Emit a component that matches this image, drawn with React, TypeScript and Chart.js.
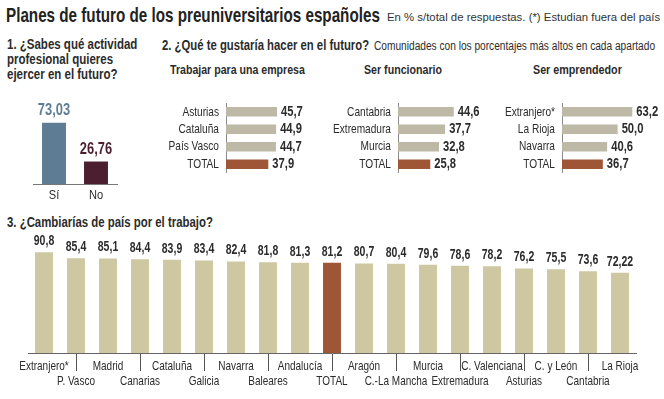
import React, { useEffect, useLayoutEffect, useRef } from "react";
import { Chart, registerables } from "chart.js";
Chart.register(...registerables);

const FONT = "'Liberation Sans', Arial, sans-serif";

const knowCategories = ["Sí", "No"];
const knowValues = [73.03, 26.76];

const companyCategories = ["Asturias", "Cataluña", "País Vasco", "TOTAL"];
const companyValues = [45.7, 44.9, 44.7, 37.9];
const civilCategories = ["Cantabria", "Extremadura", "Murcia", "TOTAL"];
const civilValues = [44.6, 37.7, 32.8, 25.8];
const entrepCategories = ["Extranjero*", "La Rioja", "Navarra", "TOTAL"];
const entrepValues = [63.2, 50.0, 40.6, 36.7];

const moveCategories = [
  "Extranjero*", "P. Vasco", "Madrid", "Canarias", "Cataluña", "Galicia", "Navarra",
  "Baleares", "Andalucía", "TOTAL", "Aragón", "C.-La Mancha", "Murcia", "Extremadura",
  "C. Valenciana", "Asturias", "C. y León", "Cantabria", "La Rioja",
];
const moveValues = [
  90.8, 85.4, 85.1, 84.4, 83.9, 83.4, 82.4, 81.8, 81.3, 81.2, 80.7, 80.4, 79.6, 78.6,
  78.2, 76.2, 75.5, 73.6, 72.22,
];

const TAN = "#cdc7a2";
const GREY_TAN = "#bdb9a6";
const BROWN = "#9e5637";
const BLUE = "#5f7c95";
const MAROON = "#4b1f30";
const TEXT = "#2b2b2b";

const fmt = (v: number) => (Number.isInteger(v) ? v.toFixed(1) : String(v)).replace(".", ",");

const valueLabels = {
  id: "valueLabels",
  afterDatasetsDraw(chart: any, _args: any, opts: any) {
    const ctx = chart.ctx;
    const meta = chart.getDatasetMeta(0);
    const ds = chart.data.datasets[0];
    ctx.save();
    const prevK = ctx.__k;
    ctx.__k = opts.k;
    ctx.font = opts.font;
    meta.data.forEach((el: any, i: number) => {
      const txt = fmt(ds.data[i] as number);
      ctx.fillStyle = Array.isArray(opts.color) ? opts.color[i] : opts.color;
      if (opts.horizontal) {
        ctx.textAlign = "left";
        ctx.textBaseline = "middle";
        ctx.fillText(txt, el.x + opts.offset, el.y);
      } else {
        ctx.textAlign = "center";
        ctx.textBaseline = "bottom";
        ctx.fillText(txt, el.x, el.y - opts.offset);
      }
    });
    ctx.__k = prevK;
    ctx.restore();
  },
};

function ChartBox({ left, top, width, height, make, k }: any) {
  const ref = useRef<HTMLCanvasElement>(null);
  useEffect(() => {
    const canvas = ref.current as HTMLCanvasElement;
    const ctx: any = canvas.getContext("2d");
    const orig = ctx.fillText.bind(ctx);
    ctx.__k = k;
    ctx.fillText = (text: string, x: number, y: number, maxWidth?: number) => {
      const kk = ctx.__k || 1;
      ctx.save();
      ctx.translate(x, y);
      ctx.scale(kk, 1);
      if (maxWidth !== undefined) orig(text, 0, 0, maxWidth / kk);
      else orig(text, 0, 0);
      ctx.restore();
    };
    const chart = new Chart(canvas, make());
    return () => chart.destroy();
  }, []);
  return (
    <canvas
      ref={ref}
      width={width}
      height={height}
      style={{ position: "absolute", left, top, width, height }}
    />
  );
}

function hbarConfig(cats: string[], vals: number[], axisWidth: number, max: number, padRight: number) {
  return () => ({
    type: "bar",
    data: {
      labels: cats,
      datasets: [
        {
          data: vals,
          backgroundColor: cats.map((c) => (c === "TOTAL" ? BROWN : GREY_TAN)),
          barPercentage: 0.54,
          categoryPercentage: 1,
        },
      ],
    },
    plugins: [valueLabels],
    options: {
      indexAxis: "y",
      animation: false,
      responsive: false,
      layout: { padding: { left: 0, right: padRight, top: 0, bottom: 0 } },
      plugins: {
        legend: { display: false },
        tooltip: { enabled: false },
        valueLabels: { font: `bold 14px ${FONT}`, color: TEXT, offset: 4, horizontal: true, k: 0.8 },
      },
      scales: {
        x: { display: false, min: 0, max },
        y: {
          afterFit: (s: any) => { s.width = axisWidth; },
          grid: { display: false, drawTicks: false },
          border: { display: true, color: "#8a8a8a", width: 1 },
          ticks: { padding: 7, color: TEXT, font: { family: FONT, size: 13.5 } },
        },
      },
    },
  });
}

const knowConfig = () => ({
  type: "bar",
  data: {
    labels: knowCategories,
    datasets: [
      {
        data: knowValues,
        backgroundColor: [BLUE, MAROON],
        barPercentage: 0.57,
        categoryPercentage: 1,
      },
    ],
  },
  plugins: [valueLabels],
  options: {
    animation: false,
    responsive: false,
    layout: { padding: { left: 0, right: 3, top: 10, bottom: 0 } },
    plugins: {
      legend: { display: false },
      tooltip: { enabled: false },
      valueLabels: { font: `bold 17px ${FONT}`, color: [BLUE, MAROON], offset: 4, k: 0.76 },
    },
    scales: {
      y: { display: false, min: 0, max: 100 },
      x: {
        afterFit: (s: any) => { s.height = 20; },
        grid: { display: false, drawTicks: false },
        border: { display: true, color: "#777", width: 1 },
        ticks: { padding: 3, color: TEXT, font: { family: FONT, size: 13.5 } },
      },
    },
  },
});

const moveConfig = () => ({
  type: "bar",
  data: {
    labels: moveCategories.map((c, i) => (i % 2 === 0 ? [c] : ["", c])),
    datasets: [
      {
        data: moveValues,
        backgroundColor: moveCategories.map((c) => (c === "TOTAL" ? BROWN : TAN)),
        barPercentage: 0.56,
        categoryPercentage: 1,
      },
    ],
  },
  plugins: [valueLabels],
  options: {
    animation: false,
    responsive: false,
    layout: { padding: { left: 14, right: 4, top: 15, bottom: 0 } },
    plugins: {
      legend: { display: false },
      tooltip: { enabled: false },
      valueLabels: { font: `bold 14px ${FONT}`, color: TEXT, offset: 4, k: 0.75 },
    },
    scales: {
      y: { display: false, min: 0, max: 100 },
      x: {
        afterFit: (s: any) => { s.height = 36; },
        grid: {
          display: true,
          drawOnChartArea: false,
          drawTicks: true,
          tickLength: 18,
          offset: false,
          color: (c: any) => (c.index % 2 === 1 ? "#555" : "rgba(0,0,0,0)"),
        },
        border: { display: true, color: "#666", width: 1 },
        ticks: {
          padding: -12,
          color: TEXT,
          autoSkip: false,
          maxRotation: 0,
          font: { family: FONT, size: 13.5, lineHeight: 1.08 },
        },
      },
    },
  },
});

function Fit({ left, top, width, children, style }: any) {
  const ref = useRef<HTMLDivElement>(null);
  useLayoutEffect(() => {
    const el = ref.current as HTMLDivElement;
    el.style.transform = "none";
    const w = el.offsetWidth;
    if (w > 0) el.style.transform = `scaleX(${width / w})`;
  }, []);
  return (
    <div
      ref={ref}
      style={{
        position: "absolute",
        left,
        top,
        whiteSpace: "nowrap",
        transformOrigin: "left top",
        fontFamily: FONT,
        color: TEXT,
        ...style,
      }}
    >
      {children}
    </div>
  );
}

export default function App() {
  return (
    <div style={{ position: "absolute", left: 0, top: 0, width: 664, height: 399, background: "#fff", overflow: "hidden" }}>
      <Fit left={6} top={3} width={374} style={{ fontSize: 21, fontWeight: "bold", lineHeight: "23px", color: "#222" }}>
        Planes de futuro de los preuniversitarios españoles
      </Fit>
      <Fit left={387} top={10} width={273} style={{ fontSize: 11.5, lineHeight: "14px", color: "#333" }}>
        En % s/total de respuestas. (*) Estudian fuera del país
      </Fit>
      <Fit left={7} top={37} width={130} style={{ fontSize: 14.5, fontWeight: "bold", lineHeight: "15px" }}>
        1. ¿Sabes qué actividad<br />profesional quieres<br />ejercer en el futuro?
      </Fit>
      <Fit left={162} top={37} width={207} style={{ fontSize: 14.5, fontWeight: "bold", lineHeight: "16px" }}>
        2. ¿Qué te gustaría hacer en el futuro?
      </Fit>
      <Fit left={374} top={38} width={281} style={{ fontSize: 12.5, lineHeight: "16px" }}>
        Comunidades con los porcentajes más altos en cada apartado
      </Fit>
      <Fit left={170} top={62} width={135} style={{ fontSize: 13.5, fontWeight: "bold", lineHeight: "15px" }}>
        Trabajar para una empresa
      </Fit>
      <Fit left={364} top={62} width={78} style={{ fontSize: 13.5, fontWeight: "bold", lineHeight: "15px" }}>
        Ser funcionario
      </Fit>
      <Fit left={533} top={62} width={89} style={{ fontSize: 13.5, fontWeight: "bold", lineHeight: "15px" }}>
        Ser emprendedor
      </Fit>
      <Fit left={7} top={214} width={206} style={{ fontSize: 14.5, fontWeight: "bold", lineHeight: "16px" }}>
        3. ¿Cambiarías de país por el trabajo?
      </Fit>

      <ChartBox left={33} top={90} width={87} height={114} k={0.82} make={knowConfig} />
      <ChartBox left={156} top={88} width={152} height={100} k={0.75} make={hbarConfig(companyCategories, companyValues, 70, 60, 15)} />
      <ChartBox left={323} top={88} width={165} height={100} k={0.75} make={hbarConfig(civilCategories, civilValues, 75, 60, 15)} />
      <ChartBox left={502} top={88} width={161} height={100} k={0.75} make={hbarConfig(entrepCategories, entrepValues, 60, 80, 12)} />
      <ChartBox left={14} top={227} width={626} height={162} k={0.74} make={moveConfig} />
    </div>
  );
}
